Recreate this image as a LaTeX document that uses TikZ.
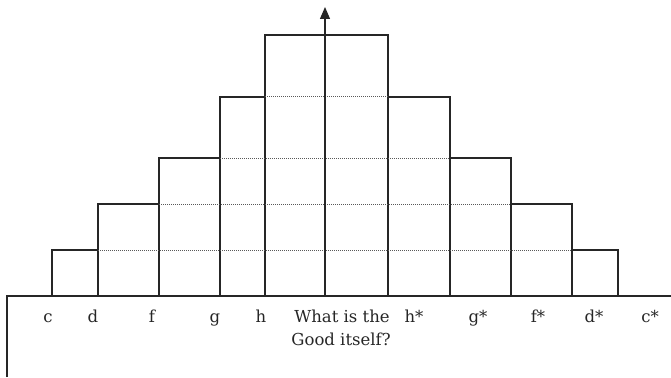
\documentclass[tikz,border=0pt]{standalone}
\usepackage{fontspec}
\setmainfont{DejaVu Serif}
\usetikzlibrary{arrows.meta}
\begin{document}
\begin{tikzpicture}[x=1pt,y=-1pt,
  solidline/.style={line width=1.2pt,black!85},
  dotline/.style={line width=1pt,black!65,dash pattern=on 1pt off 1pt},
  lab/.style={anchor=base,inner sep=0pt,font=\fontsize{16.5}{20}\selectfont,text=black!85}]
\useasboundingbox (0,0) rectangle (671,377);
% grid coordinates
\coordinate (c0) at (52,296);
\coordinate (d0) at (98,296);
\coordinate (f0) at (159,296);
\coordinate (g0) at (220,296);
\coordinate (h0) at (265,296);
\coordinate (m0) at (325,296);
\coordinate (hs0) at (388,296);
\coordinate (gs0) at (450,296);
\coordinate (fs0) at (511,296);
\coordinate (ds0) at (572,296);
\coordinate (cs0) at (618,296);
\coordinate (top) at (325,7);
% base frame
\draw[solidline] (7,377) -- (7,296) -- (671,296);
% staircase outline
\draw[solidline] (c0) -- (52,250) -- (98,250) -- (98,204) -- (159,204) -- (159,158)
  -- (220,158) -- (220,97) -- (265,97) -- (265,35) -- (388,35) -- (388,97)
  -- (450,97) -- (450,158) -- (511,158) -- (511,204) -- (572,204) -- (572,250)
  -- (618,250) -- (cs0);
% vertical column lines
\draw[solidline] (d0) -- (98,204);
\draw[solidline] (f0) -- (159,158);
\draw[solidline] (g0) -- (220,97);
\draw[solidline] (h0) -- (265,35);
\draw[solidline] (hs0) -- (388,35);
\draw[solidline] (gs0) -- (450,97);
\draw[solidline] (fs0) -- (511,158);
\draw[solidline] (ds0) -- (572,204);
% dotted levels
\draw[dotline] (98,250) -- (572,250);
\draw[dotline] (159,204) -- (511,204);
\draw[dotline] (220,158) -- (450,158);
\draw[dotline] (265,97) -- (388,97);
% central arrow
\draw[solidline,-{Triangle[length=12pt,width=10pt]}] (m0) -- (top);
% labels
\node[lab] (lc) at (48,322) {c};
\node[lab] (ld) at (93,322) {d};
\node[lab] (lf) at (152,322) {f};
\node[lab] (lg) at (215,322) {g};
\node[lab] (lh) at (261,322) {h};
\node[lab] (lq1) at (342,322) {What is the};
\node[lab] (lq2) at (341,345) {Good itself?};
\node[lab] (lhs) at (414,322) {h*};
\node[lab] (lgs) at (478,322) {g*};
\node[lab] (lfs) at (538,322) {f*};
\node[lab] (lds) at (594,322) {d*};
\node[lab] (lcs) at (650,322) {c*};
\end{tikzpicture}
\end{document}
